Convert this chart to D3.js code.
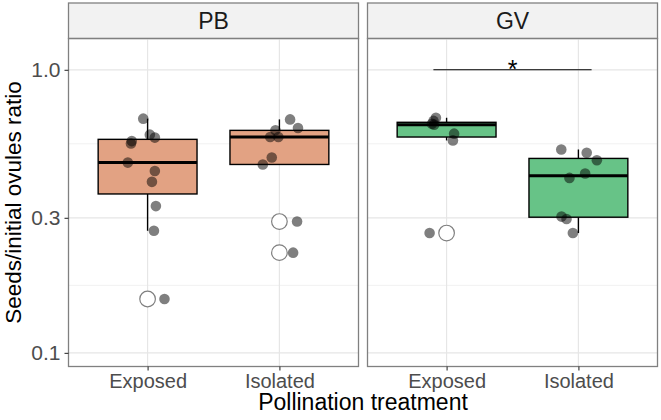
<!DOCTYPE html>
<html>
<head>
<meta charset="utf-8">
<script src="https://d3js.org/d3.v7.min.js"></script>
<style>
body { margin: 0; background: #fff; }
text { font-family: "Liberation Sans", Arial, sans-serif; }
</style>
</head>
<body>
<svg id="chart"></svg>
<script>
const facets = ["PB", "GV"];
const treatments = ["Exposed", "Isolated"];
const fills = {PB: "#E2A283", GV: "#67C387"};
const yTicks = [0.1, 0.3, 1.0];

// seeds / initial ovules ratio per plant
const pbExposed = [0.672, 0.590, 0.576, 0.560, 0.549, 0.470, 0.439, 0.402, 0.330, 0.270, 0.155];
const pbIsolated = [0.668, 0.623, 0.611, 0.579, 0.579, 0.490, 0.463, 0.291, 0.226];
const gvExposed = [0.677, 0.660, 0.645, 0.640, 0.595, 0.563, 0.265];
const gvIsolated = [0.523, 0.509, 0.479, 0.430, 0.415, 0.303, 0.297, 0.265];

// horizontal jitter of the points (category units)
const pbExposedJitter = [-0.033, 0.017, 0.055, -0.12, -0.126, -0.15, 0.055, 0.033, 0.063, 0.048, 0.128];
const pbIsolatedJitter = [0.081, 0.141, -0.03, -0.07, -0.008, -0.058, -0.126, 0.134, 0.104];
const gvExposedJitter = [-0.081, -0.099, -0.111, -0.095, 0.057, 0.048, -0.129];
const gvIsolatedJitter = [-0.13, 0.063, 0.14, 0.051, -0.068, -0.128, -0.09, -0.042];

const groups = [
  {facet: "PB", trt: "Exposed", values: pbExposed, jitter: pbExposedJitter},
  {facet: "PB", trt: "Isolated", values: pbIsolated, jitter: pbIsolatedJitter},
  {facet: "GV", trt: "Exposed", values: gvExposed, jitter: gvExposedJitter},
  {facet: "GV", trt: "Isolated", values: gvIsolated, jitter: gvIsolatedJitter}
];

const W = 661, H = 420;
const panelLeft = {PB: 68.5, GV: 367.5};
const pw = 290, panelTop = 38.5, panelBottom = 366.5, stripTop = 3;

const svg = d3.select("#chart").attr("width", W).attr("height", H);

const y = d3.scaleLog().domain([0.0895, 1.29]).range([panelBottom, panelTop]);
const x = d3.scalePoint().domain(treatments).range([0, pw]).padding(0.6);
const step = x.step();

function stats(vals) {
  const l = vals.map(v => Math.log10(v)).sort(d3.ascending);
  const q1 = d3.quantile(l, 0.25), med = d3.quantile(l, 0.5), q3 = d3.quantile(l, 0.75);
  const iqr = q3 - q1;
  const inside = l.filter(v => v >= q1 - 1.5 * iqr && v <= q3 + 1.5 * iqr);
  return {
    q1: 10 ** q1, med: 10 ** med, q3: 10 ** q3,
    lo: 10 ** d3.min(inside), hi: 10 ** d3.max(inside),
    out: l.filter(v => v < q1 - 1.5 * iqr || v > q3 + 1.5 * iqr).map(v => 10 ** v)
  };
}

const minorTicks = [Math.sqrt(0.1 * 0.3), Math.sqrt(0.3 * 1.0)];

facets.forEach(function(f) {
  const g = svg.append("g").attr("transform", "translate(" + panelLeft[f] + ",0)");

  // strip
  g.append("rect").attr("x", 0).attr("y", stripTop).attr("width", pw).attr("height", panelTop - stripTop)
    .attr("fill", "#F2F2F2").attr("stroke", "#808080").attr("stroke-width", 1.3);
  g.append("text").attr("x", pw / 2).attr("y", 29)
    .attr("text-anchor", "middle").attr("font-size", 23).attr("fill", "#1A1A1A").text(f);

  // grid
  g.selectAll(".minor").data(minorTicks).enter().append("line")
    .attr("x1", 0).attr("x2", pw).attr("y1", d => y(d)).attr("y2", d => y(d))
    .attr("stroke", "#EBEBEB").attr("stroke-width", 0.7);
  g.selectAll(".major").data(yTicks).enter().append("line")
    .attr("x1", 0).attr("x2", pw).attr("y1", d => y(d)).attr("y2", d => y(d))
    .attr("stroke", "#E6E6E6").attr("stroke-width", 1.2);
  g.selectAll(".vgrid").data(treatments).enter().append("line")
    .attr("x1", d => x(d)).attr("x2", d => x(d)).attr("y1", panelTop).attr("y2", panelBottom)
    .attr("stroke", "#E6E6E6").attr("stroke-width", 1.2);

  // boxes
  groups.filter(d => d.facet === f).forEach(function(d) {
    const s = stats(d.values);
    const cx = x(d.trt), bw = 0.75 * step;
    g.append("line").attr("x1", cx).attr("x2", cx).attr("y1", y(s.hi)).attr("y2", y(s.q3))
      .attr("stroke", "#000").attr("stroke-width", 1.4);
    g.append("line").attr("x1", cx).attr("x2", cx).attr("y1", y(s.q1)).attr("y2", y(s.lo))
      .attr("stroke", "#000").attr("stroke-width", 1.4);
    g.append("rect").attr("x", cx - bw / 2).attr("y", y(s.q3)).attr("width", bw)
      .attr("height", y(s.q1) - y(s.q3)).attr("fill", fills[f]).attr("stroke", "#000").attr("stroke-width", 1.4);
    g.append("line").attr("x1", cx - bw / 2).attr("x2", cx + bw / 2).attr("y1", y(s.med)).attr("y2", y(s.med))
      .attr("stroke", "#000").attr("stroke-width", 3);
    g.selectAll(null).data(s.out).enter().append("circle")
      .attr("cx", cx).attr("cy", v => y(v)).attr("r", 7.8)
      .attr("fill", "#fff").attr("stroke", "#7F7F7F").attr("stroke-width", 1.2);
  });

  // jittered points
  groups.filter(d => d.facet === f).forEach(function(d) {
    g.selectAll(null).data(d.values).enter().append("circle")
      .attr("cx", (v, i) => x(d.trt) + d.jitter[i] * step)
      .attr("cy", v => y(v)).attr("r", 5.3)
      .attr("fill", "#000").attr("fill-opacity", 0.5);
  });

  // panel border
  g.append("rect").attr("x", 0).attr("y", panelTop).attr("width", pw).attr("height", panelBottom - panelTop)
    .attr("fill", "none").attr("stroke", "#808080").attr("stroke-width", 1.3);

  // x axis
  const xa = g.append("g").attr("transform", "translate(0," + panelBottom + ")")
    .call(d3.axisBottom(x).tickSize(4).tickPadding(3));
  xa.select(".domain").remove();
  xa.selectAll("line").attr("stroke", "#333333").attr("stroke-width", 1.1);
  xa.selectAll("text").attr("font-size", 20).attr("fill", "#4D4D4D").attr("font-family", "Liberation Sans, Arial, sans-serif");
});

// y axis
const ya = svg.append("g").attr("transform", "translate(" + panelLeft.PB + ",0)")
  .call(d3.axisLeft(y).tickValues(yTicks).tickFormat(d3.format(".1f")).tickSize(4).tickPadding(4));
ya.select(".domain").remove();
ya.selectAll("line").attr("stroke", "#333333").attr("stroke-width", 1.1);
ya.selectAll("text").attr("font-size", 21).attr("fill", "#4D4D4D").attr("font-family", "Liberation Sans, Arial, sans-serif");

// significance bracket
const gv = svg.append("g").attr("transform", "translate(" + panelLeft.GV + ",0)");
const sigY = y(1.0);
gv.append("line").attr("x1", x("Exposed") - 0.1 * step).attr("x2", x("Isolated") + 0.1 * step)
  .attr("y1", sigY).attr("y2", sigY).attr("stroke", "#000").attr("stroke-width", 1.1);
gv.append("text").attr("x", (x("Exposed") + x("Isolated")) / 2).attr("y", sigY + 8)
  .attr("text-anchor", "middle").attr("font-size", 25).attr("fill", "#000").text("*");

// axis titles
svg.append("text").attr("x", (panelLeft.PB + panelLeft.GV + pw) / 2).attr("y", 410)
  .attr("text-anchor", "middle").attr("font-size", 23).attr("fill", "#000").text("Pollination treatment");
svg.append("text").attr("transform", "translate(21," + (panelTop + panelBottom) / 2 + ") rotate(-90)")
  .attr("text-anchor", "middle").attr("font-size", 22.5).attr("fill", "#000").text("Seeds/initial ovules ratio");
</script>
</body>
</html>
